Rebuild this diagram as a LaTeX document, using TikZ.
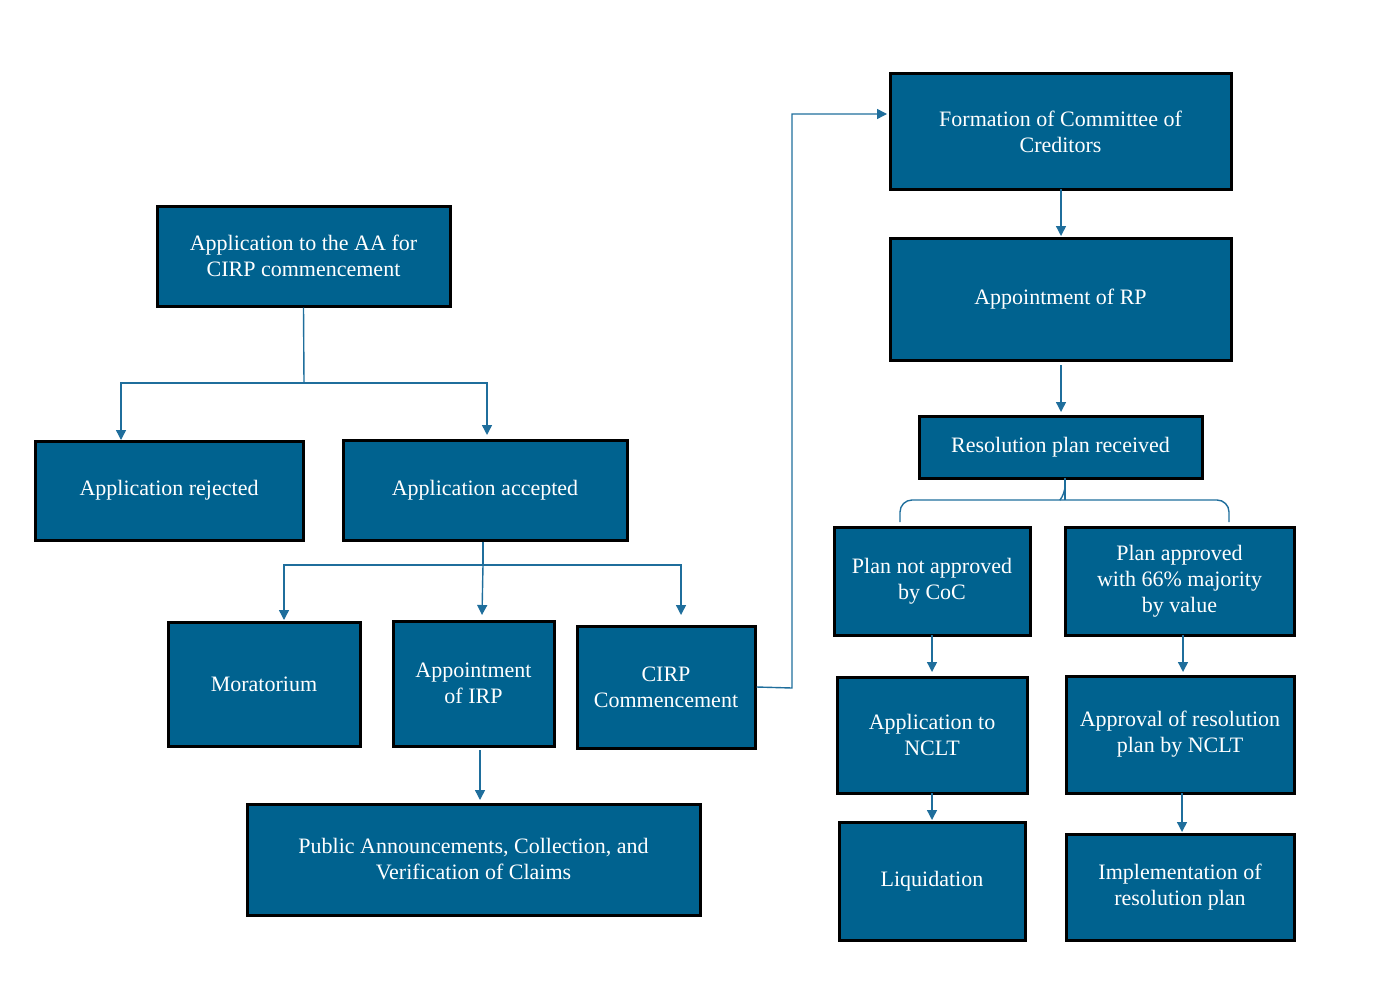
\documentclass[tikz,border=0pt]{standalone}
\usepackage{fontspec}
\setmainfont{Liberation Serif}
\usetikzlibrary{arrows.meta}
\definecolor{bx}{HTML}{00628F}
\definecolor{ln}{HTML}{1F6E9C}
\begin{document}
\begin{tikzpicture}[x=0.5pt,y=-0.5pt,
 box/.style={draw=black,line width=1.5pt,fill=bx,text=white,font=\fontsize{11}{13}\selectfont,align=center,inner sep=0pt},
 con/.style={draw=ln,line width=0.7pt},
 arr/.style={con,-{Triangle[length=5pt,width=5pt]}}]
\useasboundingbox (0,0) rectangle (1379,990);
\newcommand\bx[6]{\node[box,minimum width={(#4-#2)*0.5pt},minimum height={(#5-#3)*0.5pt}] (#1) at ({(#2+#4)/2},{(#3+#5)/2}) {#6};}
\bx{a}{157}{206}{450}{306}{Application to the AA for\\CIRP commencement}
\bx{rej}{35}{441}{303}{540}{Application rejected}
\bx{acc}{343}{440}{627}{540}{Application accepted}
\bx{mor}{168}{622}{360}{746}{Moratorium}
\bx{irp}{393}{621}{554}{746}{Appointment\\of IRP}
\bx{cirp}{577}{626}{755}{748}{CIRP\\Commencement}
\bx{pub}{247}{804}{700}{915}{Public Announcements, Collection, and\\Verification of Claims}
\bx{coc}{890}{74}{1231}{189}{Formation of Committee of\\Creditors}
\bx{rp}{890}{238}{1231}{360}{Appointment of RP}
\bx{res}{919}{416}{1202}{478}{Resolution plan received}
\bx{nap}{834}{527}{1030}{635}{Plan not approved\\by CoC}
\bx{ap}{1065}{527}{1294}{635}{Plan approved\\with 66\% majority\\by value}
\bx{ncl}{837}{677}{1027}{793}{Application to\\NCLT}
\bx{anc}{1066}{676}{1294}{793}{Approval of resolution\\plan by NCLT}
\bx{liq}{839}{822}{1025}{940}{Liquidation}
\bx{imp}{1066}{834}{1294}{940}{Implementation of\\resolution plan}
\coordinate (j1) at (304,383);
\draw[con] (a.south) -- (j1);
\draw[arr] (j1) -| (121,440);
\draw[arr] (j1) -| (487,435);
\coordinate (j2) at (483,565);
\draw[con] (acc.south -| j2) -- (j2);
\draw[arr] (j2) -| (284,620);
\draw[arr] (j2) -| (681,615);
\draw[arr] (j2) -- (482,615);
\draw[arr] (480,750) -- (480,800);
\draw[arr] (cirp.east) -- (792,688) |- (887,114);
\draw[arr] (1061,189) -- (1061,236);
\draw[arr] (1061,365) -- (1061,412);
\draw[con,rounded corners=6pt] (1065,478) -- (1065,500) -- (1065,500);
\draw[con,rounded corners=6pt] (900,522) -- (900,500) -- (1229,500) -- (1229,522);
\draw[con,rounded corners=4pt] (1060,500) -- (1065,494) -- (1065,480);
\draw[arr] (932,635) -- (932,672);
\draw[arr] (1183,635) -- (1183,672);
\draw[arr] (932,793) -- (932,820);
\draw[arr] (1182,793) -- (1182,832);
\end{tikzpicture}
\end{document}
